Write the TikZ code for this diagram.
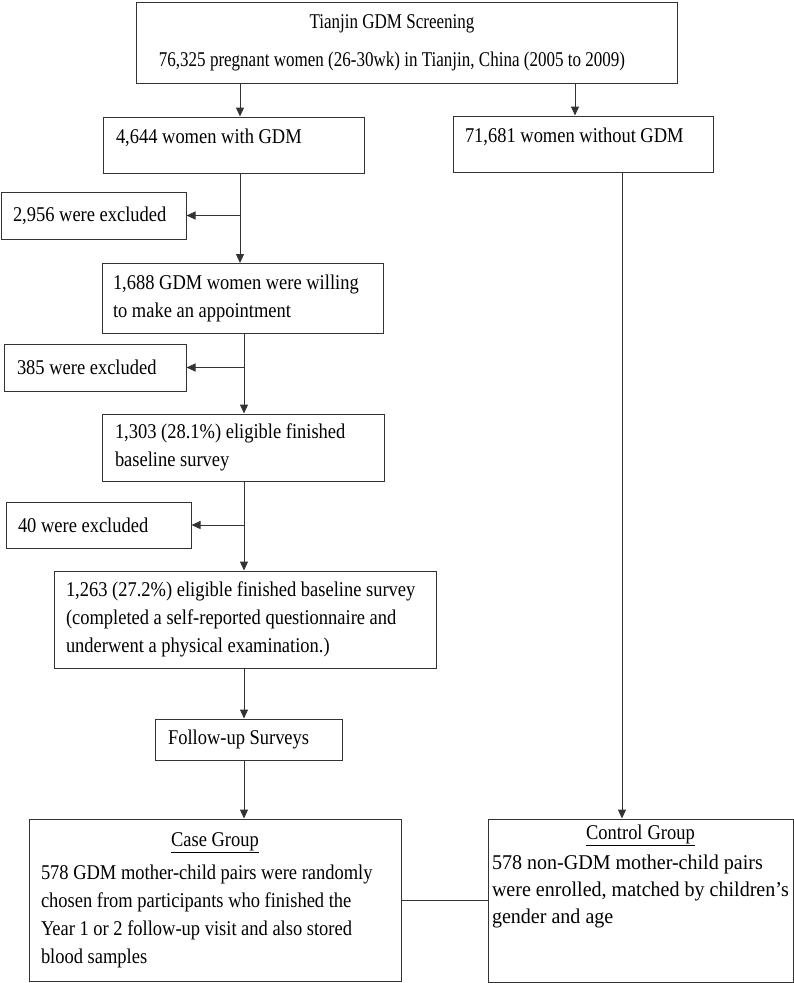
\documentclass[tikz,border=0pt]{standalone}
\usepackage{fontspec}
\setmainfont{Liberation Serif}
\newfontfamily\flowfont[FakeStretch=0.88]{Liberation Serif}
\newfontfamily\headfont[FakeStretch=0.81]{Liberation Serif}
\newfontfamily\ctrlfont[FakeStretch=0.955]{Liberation Serif}
\usetikzlibrary{arrows.meta}

\begin{document}
\begin{tikzpicture}[x=1pt, y=-1pt,
            every node/.style = {shape=rectangle, draw=black!80,
                                line width=1pt, inner ysep=0pt,
                                font=\flowfont\fontsize{21}{28}\selectfont,
                                execute at begin node={\spaceskip=4.6pt plus 1pt minus 1pt\relax}},
            stepbox/.style = {align=flush left, inner xsep=#1},
            topline/.style = {text height=20pt, text depth=24pt, inner ysep=6pt},
            link/.style = {draw=black!80, line width=1pt},
            arr/.style = {link, -{Triangle[length=9pt,width=8pt]}}]
            \useasboundingbox (0,0) rectangle (794,983);

            \node[align=center, minimum width=541pt, minimum height=81pt,
                  font=\headfont\fontsize{21}{28}\selectfont,
                  execute at begin node={\spaceskip=4.3pt plus 1pt minus 1pt\relax}] (screen) at (406.5,42.5)
                {Tianjin GDM Screening\hspace*{29pt}\\[10pt]76,325 pregnant women (26-30wk) in Tianjin, China (2005 to 2009)\hspace*{29pt}};

            \node[stepbox=13pt, topline, text width=235pt, minimum width=261pt, minimum height=56pt] (gdm) at (233.5,145)
                {4,644 women with GDM};
            \node[stepbox=12pt, topline, text width=236pt, minimum width=260pt, minimum height=56pt] (nogdm) at (583,144)
                {71,681 women without GDM};

            \node[stepbox=12pt, text width=161pt, minimum width=185pt, minimum height=47pt] (exA) at (93.5,215.5)
                {2,956 were excluded};
            \node[stepbox=11pt, text width=259pt, minimum width=281pt, minimum height=70pt] (willing) at (242.5,298.5)
                {1,688 GDM women were willing\\to make an appointment};
            \node[stepbox=13pt, text width=156pt, minimum width=182pt, minimum height=47pt] (exB) at (95,367.5)
                {385 were excluded};
            \node[stepbox=13pt, text width=256pt, minimum width=282pt, minimum height=67pt] (base1) at (243,447.5)
                {1,303 (28.1\%) eligible finished\\baseline survey};
            \node[stepbox=12pt, text width=161pt, minimum width=185pt, minimum height=46pt] (exC) at (98.5,525)
                {40 were excluded};
            \node[stepbox=12pt, text width=358pt, minimum width=382pt, minimum height=97pt] (base2) at (245,619.5)
                {1,263 (27.2\%) eligible finished baseline survey\\(completed a self-reported questionnaire and\\underwent a physical examination.)};
            \node[stepbox=13pt, text width=161pt, minimum width=187pt, minimum height=41pt] (follow) at (248.5,739.5)
                {Follow-up Surveys};

            \node[stepbox=12pt, text width=348pt, minimum width=372pt, minimum height=162pt,
                  text height=15pt, text depth=123pt, inner ysep=12pt] (case) at (215,900)
                {\makebox[\linewidth]{\underline{Case Group}}\\[5pt]578 GDM mother-child pairs were randomly\\chosen from participants who finished the\\Year 1 or 2 follow-up visit and also stored\\blood samples};
            \node[stepbox=4pt, text width=297pt, minimum width=305pt, minimum height=163pt,
                  text height=15pt, text depth=138pt, inner ysep=5pt,
                  font=\ctrlfont\fontsize{21}{27}\selectfont,
                  execute at begin node={\spaceskip=5pt plus 1pt minus 1pt\relax}] (control) at (640.5,900.5)
                {\makebox[\linewidth]{\flowfont\underline{Control Group}}\\[3pt]578 non-GDM mother-child pairs\\were enrolled, matched by children’s\\gender and age};

            \coordinate (lt) at (240,0);
            \coordinate (mt) at (244,0);
            \coordinate (rt) at (575,0);
            \coordinate (ct) at (622,0);

            \draw[arr] (lt |- screen.south) -- (lt |- gdm.north);
            \draw[arr] (rt |- screen.south) -- (rt |- nogdm.north);
            \draw[arr] (lt |- gdm.south) -- (lt |- willing.north);
            \draw[arr] (lt |- exA.east) -- (exA.east);
            \draw[arr] (mt |- willing.south) -- (mt |- base1.north);
            \draw[arr] (mt |- exB.east) -- (exB.east);
            \draw[arr] (mt |- base1.south) -- (mt |- base2.north);
            \draw[arr] (mt |- exC.east) -- (exC.east);
            \draw[arr] (mt |- base2.south) -- (mt |- follow.north);
            \draw[arr] (mt |- follow.south) -- (mt |- case.north);
            \draw[arr] (ct |- nogdm.south) -- (ct |- control.north);
            \draw[link] (case.east) -- (case.east -| control.west);
        \end{tikzpicture}
\end{document}
